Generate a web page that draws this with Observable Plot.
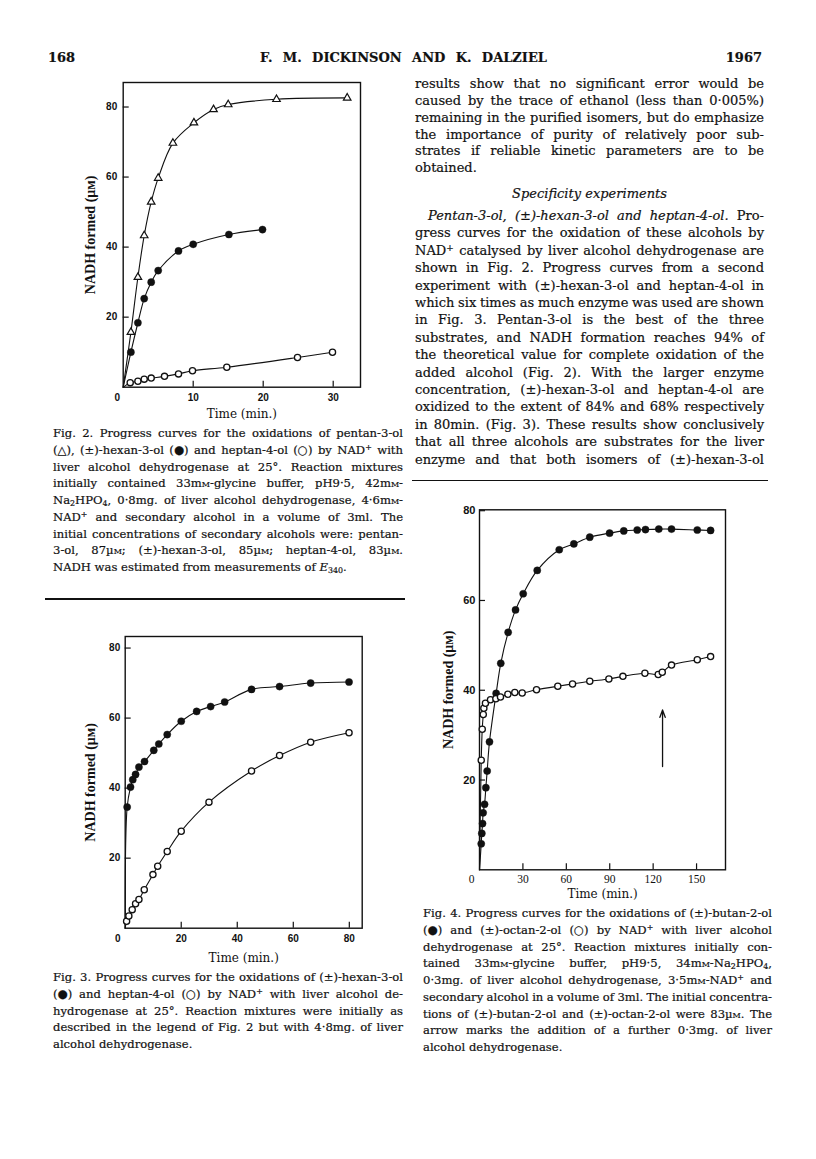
<!DOCTYPE html>
<html><head><meta charset="utf-8">
<script src="https://cdn.jsdelivr.net/npm/d3@7"></script>
<script src="https://cdn.jsdelivr.net/npm/@observablehq/plot@0.6"></script>
<style>
html,body{margin:0;padding:0;background:#fff;}
#page{position:relative;width:816px;height:1159px;overflow:hidden;background:#fff;color:#111;font-family:"DejaVu Serif",serif;}
.ln{position:absolute;white-space:nowrap;line-height:20px;-webkit-text-stroke:0.2px #111;}
.body{font-size:13px;}
.cap{font-size:11.6px;}
.head{font-size:13px;font-weight:bold;}
.sc{font-variant:small-caps;}
sup{font-size:0.68em;vertical-align:0.5em;line-height:0;}
sub{font-size:0.68em;vertical-align:-0.25em;line-height:0;}
.rule{position:absolute;height:1.5px;background:#111;}
.chart{position:absolute;}
.chart svg{overflow:visible;}
</style></head>
<body><div id="page"></div>
<script>
// ---------------- DATA ----------------
// Fig. 2  (time in min, NADH formed in µM)
const fig2PentanT = [1.1, 2.1, 3.0, 4.0, 5.0, 7.1, 10.1, 12.9, 15.0, 21.9, 32.0];
const fig2PentanY = [15.7, 31.4, 43.3, 52.9, 59.7, 69.7, 75.5, 79.3, 80.7, 82.2, 82.6];
const fig2HexanT = [1.1, 2.1, 3.0, 4.0, 5.0, 7.9, 10.0, 15.1, 19.9];
const fig2HexanY = [10.0, 18.4, 25.3, 30.0, 33.3, 38.9, 40.8, 43.6, 45.0];
const fig2HeptanT = [1.0, 2.1, 3.0, 4.0, 5.9, 7.9, 9.9, 14.8, 24.9, 29.9];
const fig2HeptanY = [1.3, 1.7, 2.3, 2.6, 3.1, 3.8, 4.7, 5.7, 8.5, 10.0];
const fig2XTicks = [10, 20, 30];
const fig2YTicks = [20, 40, 60, 80];

// Fig. 3
const fig3HexanT = [0.7, 1.9, 2.7, 3.7, 4.9, 6.9, 10.2, 12.0, 15.0, 20.0, 25.5, 30.5, 35.5, 45.1, 55.1, 66.2, 79.9];
const fig3HexanY = [34.6, 40.3, 42.4, 43.9, 46.0, 47.6, 50.8, 52.6, 55.3, 59.1, 61.9, 63.3, 64.6, 68.2, 69.0, 70.0, 70.3];
const fig3HeptanT = [0.5, 1.3, 2.5, 3.7, 4.9, 6.8, 9.9, 11.6, 15.0, 20.0, 29.9, 45.1, 55.1, 66.2, 79.9];
const fig3HeptanY = [2.0, 3.5, 5.3, 7.0, 8.2, 11.0, 15.3, 17.7, 21.9, 27.7, 36.0, 44.9, 49.3, 53.1, 55.8];
const fig3XTicks = [20, 40, 60, 80];
const fig3YTicks = [20, 40, 60, 80];

// Fig. 4
const fig4ButanT = [1.2, 1.6, 2.1, 2.5, 3.5, 4.4, 5.3, 6.9, 11.5, 14.7, 19.8, 24.9, 30.2, 39.9, 55.1, 65.2, 76.2, 89.9, 99.7, 109.0, 114.7, 123.9, 132.7, 150.5, 159.7];
const fig4ButanY = [5.8, 8.1, 10.3, 12.7, 14.6, 18.3, 22.0, 28.5, 39.3, 46.0, 52.9, 57.9, 61.5, 66.7, 71.3, 72.6, 74.1, 75.0, 75.5, 75.7, 75.8, 75.9, 75.9, 75.7, 75.6];
const fig4OctanT = [1.2, 1.9, 2.6, 3.0, 4.1, 7.6, 11.3, 14.5, 19.6, 24.4, 29.5, 39.4, 54.1, 64.3, 76.2, 89.4, 99.1, 114.3, 123.5, 126.3, 132.7, 150.5, 159.7];
const fig4OctanY = [24.4, 31.3, 34.6, 36.0, 37.1, 37.9, 38.1, 38.5, 39.1, 39.5, 39.4, 40.1, 40.9, 41.4, 42.0, 42.5, 43.1, 43.8, 43.5, 44.0, 45.6, 46.8, 47.5];
const fig4Arrow = [{t: 126.5, from: 23.0, to: 35.6}]; // addition of further enzyme
const fig4XTicks = [30, 60, 90, 120, 150];
const fig4YTicks = [20, 40, 60, 80];

const origin = {t: 0, v: 0}; // all progress curves start at zero

// ---------------- TEXT ----------------
const headerLeft = "168";
const headerCenter = "F. M. DICKINSON AND K. DALZIEL";
const headerRight = "1967";
const para1 = [
  "results show that no significant error would be",
  "caused by the trace of ethanol (less than 0·005%)",
  "remaining in the purified isomers, but do emphasize",
  "the importance of purity of relatively poor sub-",
  "strates if reliable kinetic parameters are to be",
  "obtained."
];
const heading = "Specificity experiments";
const para2 = [
  "<i>Pentan-3-ol, (±)-hexan-3-ol and heptan-4-ol.</i> Pro-",
  "gress curves for the oxidation of these alcohols by",
  "NAD<sup>+</sup> catalysed by liver alcohol dehydrogenase are",
  "shown in Fig. 2. Progress curves from a second",
  "experiment with (±)-hexan-3-ol and heptan-4-ol in",
  "which six times as much enzyme was used are shown",
  "in Fig. 3. Pentan-3-ol is the best of the three",
  "substrates, and NADH formation reaches 94% of",
  "the theoretical value for complete oxidation of the",
  "added alcohol (Fig. 2). With the larger enzyme",
  "concentration, (±)-hexan-3-ol and heptan-4-ol are",
  "oxidized to the extent of 84% and 68% respectively",
  "in 80min. (Fig. 3). These results show conclusively",
  "that all three alcohols are substrates for the liver",
  "enzyme and that both isomers of (±)-hexan-3-ol"
];
const fig2Caption = [
  "Fig. 2. Progress curves for the oxidations of pentan-3-ol",
  "(△), (±)-hexan-3-ol (●) and heptan-4-ol (○) by NAD<sup>+</sup> with",
  "liver alcohol dehydrogenase at 25°. Reaction mixtures",
  "initially contained 33m<span class='sc'>m</span>-glycine buffer, pH9·5, 42m<span class='sc'>m</span>-",
  "Na<sub>2</sub>HPO<sub>4</sub>, 0·8mg. of liver alcohol dehydrogenase, 4·6m<span class='sc'>m</span>-",
  "NAD<sup>+</sup> and secondary alcohol in a volume of 3ml. The",
  "initial concentrations of secondary alcohols were: pentan-",
  "3-ol, 87µ<span class='sc'>m</span>; (±)-hexan-3-ol, 85µ<span class='sc'>m</span>; heptan-4-ol, 83µ<span class='sc'>m</span>.",
  "NADH was estimated from measurements of <i>E</i><sub>340</sub>."
];
const fig3Caption = [
  "Fig. 3. Progress curves for the oxidations of (±)-hexan-3-ol",
  "(●) and heptan-4-ol (○) by NAD<sup>+</sup> with liver alcohol de-",
  "hydrogenase at 25°. Reaction mixtures were initially as",
  "described in the legend of Fig. 2 but with 4·8mg. of liver",
  "alcohol dehydrogenase."
];
const fig4Caption = [
  "Fig. 4. Progress curves for the oxidations of (±)-butan-2-ol",
  "(●) and (±)-octan-2-ol (○) by NAD<sup>+</sup> with liver alcohol",
  "dehydrogenase at 25°. Reaction mixtures initially con-",
  "tained 33m<span class='sc'>m</span>-glycine buffer, pH9·5, 34m<span class='sc'>m</span>-Na<sub>2</sub>HPO<sub>4</sub>,",
  "0·3mg. of liver alcohol dehydrogenase, 3·5m<span class='sc'>m</span>-NAD<sup>+</sup> and",
  "secondary alcohol in a volume of 3ml. The initial concentra-",
  "tions of (±)-butan-2-ol and (±)-octan-2-ol were 83µ<span class='sc'>m</span>. The",
  "arrow marks the addition of a further 0·3mg. of liver",
  "alcohol dehydrogenase."
];
const yTitle = "NADH formed (μᴍ)";
const xTitle = "Time (min.)";

// ---------------- RENDER ----------------
const page = document.getElementById("page");
const rows = (T, V) => T.map((t, i) => ({t, v: V[i]}));
const INK = "#111";

function seriesMarks(data, kind) {
  const line = Plot.line([origin, ...data], {x: "t", y: "v", curve: "catmull-rom", stroke: INK, strokeWidth: 1.1});
  let dot;
  if (kind === "filled") dot = Plot.dot(data, {x: "t", y: "v", r: 3.6, fill: INK, stroke: INK, strokeWidth: 0.4});
  else if (kind === "open") dot = Plot.dot(data, {x: "t", y: "v", r: 3.1, fill: "white", stroke: INK, strokeWidth: 1.3});
  else dot = Plot.dot(data, {x: "t", y: "v", symbol: "triangle", r: 2.8, fill: "white", stroke: INK, strokeWidth: 1.2});
  return {line, dot};
}

function drawChart(c) {
  const s = c.series.map(([d, k]) => seriesMarks(d, k));
  const svg = Plot.plot({
    width: c.boxR - c.boxL, height: c.boxB - c.boxT,
    marginLeft: c.fx0 - c.boxL, marginRight: c.boxR - c.fx1,
    marginTop: c.fy0 - c.boxT, marginBottom: c.boxB - c.fy1,
    x: {domain: c.xDomain}, y: {domain: c.yDomain},
    style: {fontFamily: "Liberation Sans", fontSize: "10px", color: INK, background: "none", overflow: "visible"},
    marks: [
      Plot.frame({stroke: INK, strokeWidth: 1.4}),
      Plot.axisX({ticks: c.xTicks, tickSize: 6, dy: -6, tickFormat: () => "", label: null, stroke: INK, strokeWidth: 1.2}),
      Plot.axisY({ticks: c.yTicks, tickSize: 6, dx: 6, tickFormat: () => "", label: null, stroke: INK, strokeWidth: 1.2}),
      Plot.axisX({ticks: c.xTicks, tickSize: 0, tickPadding: c.xPad, label: null, ...c.xFont}),
      Plot.axisX({ticks: [0], tickSize: 0, tickPadding: c.xPad, dx: c.zeroDx, label: null, ...c.xFont}),
      Plot.axisY({ticks: c.yTicks, tickSize: 0, tickPadding: c.yPad, label: null, ...c.yFont}),
      Plot.axisX({ticks: [], tickSize: 0, label: xTitle, labelAnchor: "center", labelArrow: "none", labelOffset: c.xTitleOffset,
        fontFamily: "DejaVu Serif", fontSize: 12, fill: INK}),
      Plot.axisY({ticks: [], tickSize: 0, label: yTitle, labelAnchor: "center", labelArrow: "none", labelOffset: c.yTitleOffset,
        fontFamily: "Liberation Serif", fontSize: 14, fontWeight: "bold", fill: INK}),
      ...(c.extra || []),
      ...s.map(d => d.line),
      ...s.map(d => d.dot)
    ]
  });
  const wrap = document.createElement("div");
  wrap.className = "chart";
  wrap.style.left = c.boxL + "px";
  wrap.style.top = c.boxT + "px";
  wrap.append(svg);
  page.append(wrap);
}

const tickSans = {fontFamily: "Liberation Sans", fontSize: 10, fontWeight: "bold", fill: INK};

drawChart({
  fx0: 122.7, fx1: 360, fy0: 82, fy1: 386.7,
  boxL: 40, boxT: 70, boxR: 372, boxB: 430,
  xDomain: [0, 33.9], yDomain: [0, 87],
  xTicks: fig2XTicks, yTicks: fig2YTicks,
  xPad: 6.8, yPad: 6, zeroDx: -6,
  xFont: tickSans, yFont: tickSans,
  xTitleOffset: 30.3, yTitleOffset: 38.3,
  series: [[rows(fig2PentanT, fig2PentanY), "triangle"], [rows(fig2HexanT, fig2HexanY), "filled"], [rows(fig2HeptanT, fig2HeptanY), "open"]]
});

drawChart({
  fx0: 124.7, fx1: 361.7, fy0: 636, fy1: 927.7,
  boxL: 40, boxT: 624, boxR: 374, boxB: 970,
  xDomain: [0, 84.6], yDomain: [0, 83.3],
  xTicks: fig3XTicks, yTicks: fig3YTicks,
  xPad: 6.8, yPad: 5, zeroDx: -7.4,
  xFont: tickSans, yFont: tickSans,
  xTitleOffset: 33.3, yTitleOffset: 40,
  series: [[rows(fig3HexanT, fig3HexanY), "filled"], [rows(fig3HeptanT, fig3HeptanY), "open"]]
});

drawChart({
  fx0: 479, fx1: 725, fy0: 509.3, fy1: 869.3,
  boxL: 420, boxT: 497, boxR: 737, boxB: 905,
  xDomain: [0, 170], yDomain: [0, 80.2],
  xTicks: fig4XTicks, yTicks: fig4YTicks,
  xPad: 5.1, yPad: 4, zeroDx: -8,
  xFont: {fontFamily: "Liberation Serif", fontSize: 11.5, fill: INK},
  yFont: {fontFamily: "Liberation Sans", fontSize: 11, fontWeight: "bold", fill: INK},
  xTitleOffset: 27.7, yTitleOffset: 36.3,
  extra: [Plot.arrow(fig4Arrow, {x1: "t", x2: "t", y1: "from", y2: "to", stroke: INK, strokeWidth: 1.3, headLength: 9, headAngle: 40})],
  series: [[rows(fig4ButanT, fig4ButanY), "filled"], [rows(fig4OctanT, fig4OctanY), "open"]]
});

// text
const fits = [];
function addLine(html, cls, x, w, yc, justify, align) {
  const d = document.createElement("div");
  d.className = "ln " + cls;
  d.style.left = x + "px";
  d.style.width = w + "px";
  d.style.top = (yc - 10) + "px";
  if (align) d.style.textAlign = align;
  const s = document.createElement("span");
  s.innerHTML = html;
  d.append(s);
  page.append(d);
  fits.push({s, w, justify});
}
function addBlock(lines, cls, x, w, y0, step, indent = 0, lastJustify = false) {
  lines.forEach((h, i) => {
    const ind = i === 0 ? indent : 0;
    addLine(h, cls, x + ind, w - ind, y0 + i * step, i < lines.length - 1 || lastJustify);
  });
}

addLine(headerLeft, "head", 48, 40, 58, false);
addLine(headerCenter, "head", 260, 287, 58, true);
addLine(headerRight, "head", 712, 50, 58, false, "right");

addBlock(para1, "body", 415, 349, 84, 16.85);
addLine("<i>" + heading + "</i>", "body", 415, 349, 193.5, false, "center");
addBlock(para2, "body", 415, 349, 216, 17.4, 13, true);
addBlock(fig2Caption, "cap", 53, 350, 433, 16.75);
addBlock(fig3Caption, "cap", 53, 350, 977, 16.75);
addBlock(fig4Caption, "cap", 423, 349, 913, 16.75);

for (const {s, w, justify} of fits) {
  const nat = s.getBoundingClientRect().width;
  const n = (s.textContent.match(/ /g) || []).length;
  if (!n) continue;
  if (justify || nat > w) s.style.wordSpacing = ((w - nat) / n) + "px";
}

// rules
function rule(x, y, w) {
  const r = document.createElement("div");
  r.className = "rule";
  r.style.left = x + "px"; r.style.top = (y - 0.75) + "px"; r.style.width = w + "px";
  page.append(r);
}
rule(412, 480.7, 356);
rule(45, 599, 360);
</script>
</body></html>
